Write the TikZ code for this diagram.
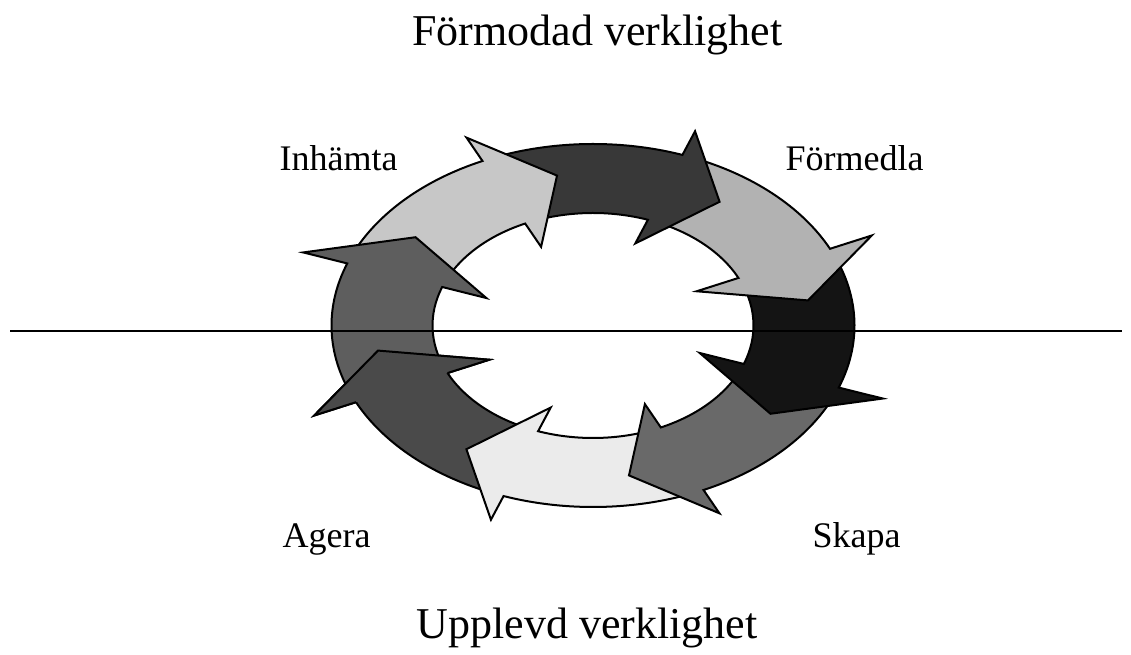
\documentclass[tikz,border=0pt]{standalone}
\usepackage{fontspec}
\setmainfont{Liberation Serif}
\usetikzlibrary{calc}

\tikzset{
  ringpart/.style={draw=black, line width=2pt, line join=miter},
  heading/.style={font=\fontsize{44}{50}\selectfont, anchor=base},
  phase/.style={font=\fontsize{36}{42}\selectfont, anchor=base west}
}

\begin{document}
\begin{tikzpicture}[x=1pt, y=1pt]
  \useasboundingbox (0,0) rectangle (1131,655);
  \coordinate (ctr) at (593,329.5);

  % the eight curved arrows, drawn back to front
  \foreach \base/\shade in {-155/black!71, -110/black!8, -65/black!59, -20/black!92,
                            25/black!30, 70/black!78, 115/black!22, 160/black!63}{
    \pgfmathsetmacro\tail{\base+43}
    \pgfmathsetmacro\tipang{\base-15.5}
    \pgfmathsetmacro\ext{0.35+0.13*cos(\base)^2}
    \pgfmathsetmacro\owx{160.5+101*(1+\ext)}
    \pgfmathsetmacro\owy{112.5+69*(1+\ext)}
    \pgfmathsetmacro\iwx{160.5-101*\ext}
    \pgfmathsetmacro\iwy{112.5-69*\ext}
    \filldraw[ringpart, fill=\shade]
      ($(ctr)+(\tail:261.5 and 181.5)$)
        arc[start angle=\tail, end angle=\base, x radius=261.5, y radius=181.5]
      -- ($(ctr)+(\base:{\owx} and {\owy})$)
      -- ($(ctr)+(\tipang:218 and 152)$)
      -- ($(ctr)+(\base:{\iwx} and {\iwy})$)
      -- ($(ctr)+(\base:160.5 and 112.5)$)
        arc[start angle=\base, end angle=\tail, x radius=160.5, y radius=112.5]
      -- cycle;
  }

  % head of the last arrow lies over the tail of the first
  \pgfmathsetmacro\ext{0.35+0.13*cos(-155)^2}
  \pgfmathsetmacro\owx{160.5+101*(1+\ext)}
  \pgfmathsetmacro\owy{112.5+69*(1+\ext)}
  \pgfmathsetmacro\iwx{160.5-101*\ext}
  \pgfmathsetmacro\iwy{112.5-69*\ext}
  \coordinate (hb1) at ($(ctr)+(-155:160.5 and 112.5)$);
  \coordinate (hw1) at ($(ctr)+(-155:{\iwx} and {\iwy})$);
  \coordinate (htip) at ($(ctr)+(-170.5:218 and 152)$);
  \coordinate (hw2) at ($(ctr)+(-155:{\owx} and {\owy})$);
  \coordinate (hb2) at ($(ctr)+(-155:261.5 and 181.5)$);
  \fill[black!71] (hb1) -- (hw1) -- (htip) -- (hw2) -- (hb2) -- cycle;
  \draw[ringpart] (hb1) -- (hw1) -- (htip) -- (hw2) -- (hb2);

  % horizon
  \coordinate (west) at (10,324);
  \coordinate (east) at (1122,324);
  \draw[line width=1.3pt] (west) -- (east);

  \node[heading] (assumed) at (597.5,609) {Förmodad verklighet};
  \node[heading] (lived) at (587,16) {Upplevd verklighet};

  \node[phase] (gather) at (276,484) {Inhämta};
  \node[phase] (convey) at (782,484) {Förmedla};
  \node[phase] (act) at (279,107) {Agera};
  \node[phase] (create) at (809,107) {Skapa};
\end{tikzpicture}
\end{document}
